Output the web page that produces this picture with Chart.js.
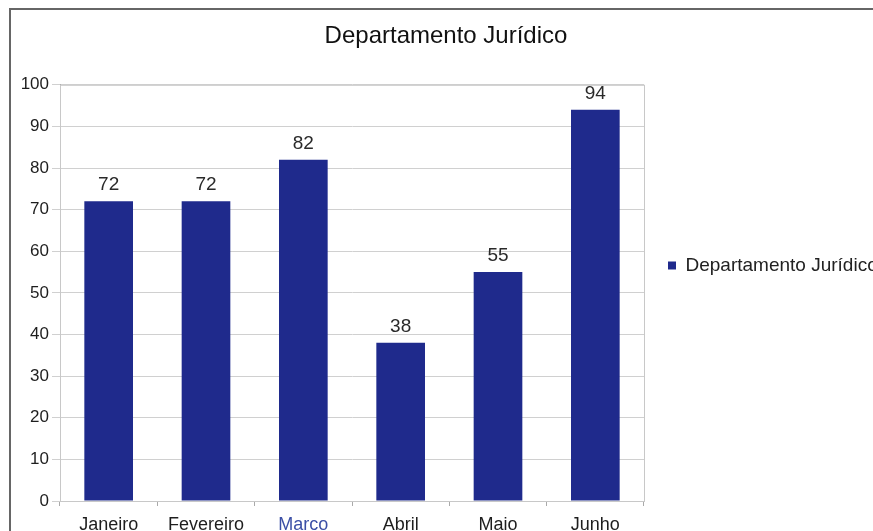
<!DOCTYPE html>
<html>
<head>
<meta charset="utf-8">
<script src="https://cdn.jsdelivr.net/npm/chart.js@4.4.1/dist/chart.umd.min.js"></script>
<style>
  html, body { margin: 0; padding: 0; background: #fff; overflow: hidden; }
  #wrap { position: relative; width: 873px; height: 531px; overflow: hidden; }
  #frame { position: absolute; left: 9px; top: 8px; right: 0; bottom: -5px;
           border-left: 2px solid #666; border-top: 2px solid #666; z-index: 2; }
  #box { position: absolute; left: -43px; top: 0; width: 916px; height: 531px; }
</style>
</head>
<body>
<div id="wrap">
  <div id="box"><canvas id="juridico" width="916" height="531"></canvas></div>
  <div id="frame"></div>
</div>
<script>
// dados do gráfico
const meses = ["Janeiro", "Fevereiro", "Marco", "Abril", "Maio", "Junho"];
const valores = [72, 72, 82, 38, 55, 94];
const corMeses = ["#1e1e1e", "#1e1e1e", "#3b4fa6", "#1e1e1e", "#1e1e1e", "#1e1e1e"];
const serie = "Departamento Jurídico";

const fonte = "'Liberation Sans', Arial, sans-serif";

// escreve o valor acima de cada barra
const rotulosValor = {
  id: "rotulosValor",
  afterDatasetsDraw(chart) {
    const ctx = chart.ctx;
    const meta = chart.getDatasetMeta(0);
    ctx.save();
    ctx.font = "19px " + fonte;
    ctx.fillStyle = "#2a2a2a";
    ctx.textAlign = "center";
    ctx.textBaseline = "alphabetic";
    meta.data.forEach((bar, i) => {
      ctx.fillText(valores[i], bar.x, bar.y - 11);
    });
    ctx.restore();
  }
};

// moldura da área do gráfico
const moldura = {
  id: "moldura",
  beforeDatasetsDraw(chart) {
    const a = chart.chartArea;
    const ctx = chart.ctx;
    ctx.save();
    ctx.strokeStyle = "#c8c8c8";
    ctx.lineWidth = 1;
    ctx.strokeRect(a.left + 0.5, a.top + 0.5, a.right - a.left, a.bottom - a.top);
    ctx.restore();
  }
};

// o título do original não fica centrado no canvas
const deslocaTitulo = {
  id: "deslocaTitulo",
  afterLayout(chart) {
    const t = chart.titleBlock;
    if (t) { t.left += 31; t.right += 31; }
  }
};

const ctx = document.getElementById("juridico").getContext("2d");
const grafico = new Chart(ctx, {
  type: "bar",
  data: {
    labels: meses,
    datasets: [{
      label: serie,
      data: valores,
      backgroundColor: "#1f2a8c",
      borderWidth: 0,
      barPercentage: 0.5,
      categoryPercentage: 1.0
    }]
  },
  options: {
    responsive: false,
    animation: false,
    layout: { padding: 0 },
    scales: {
      x: {
        offset: true,
        grid: { drawOnChartArea: false, color: "#aaa", tickLength: 5 },
        border: { color: "#aaa" },
        ticks: {
          color: corMeses,
          font: { family: fonte, size: 18 },
          padding: 8
        },
        afterFit(scale) { scale.height = 30; }
      },
      y: {
        min: 0,
        max: 100,
        ticks: {
          stepSize: 10,
          color: "#1e1e1e",
          font: { family: fonte, size: 17 },
          padding: 3
        },
        grid: { color: "#d0d0d0", tickLength: 8 },
        border: { color: "#aaa" },
        afterFit(scale) { scale.width = 103; }
      }
    },
    plugins: {
      title: {
        display: true,
        text: serie,
        color: "#111",
        font: { family: fonte, size: 24, weight: "normal" },
        padding: { top: 22, bottom: 34 }
      },
      legend: {
        position: "right",
        labels: {
          color: "#222",
          boxWidth: 8,
          boxHeight: 8,
          padding: 24,
          font: { family: fonte, size: 19 }
        }
      },
      tooltip: { enabled: false }
    }
  },
  plugins: [moldura, rotulosValor, deslocaTitulo]
});
</script>
</body>
</html>
